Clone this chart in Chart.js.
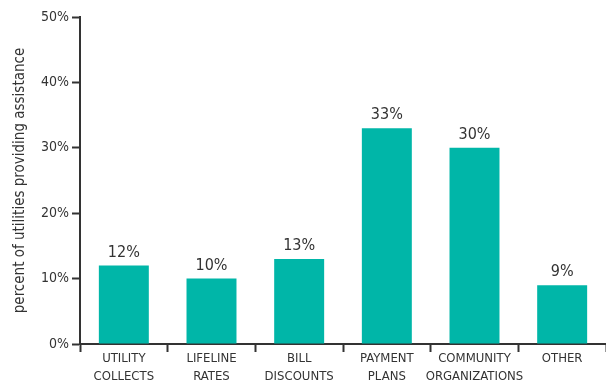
<!DOCTYPE html>
<html>
<head>
<meta charset="utf-8">
<script src="https://cdn.jsdelivr.net/npm/chart.js@4"></script>
<style>
  html, body { margin: 0; padding: 0; background: #fff; }
  #wrap { width: 606px; height: 385px; }
</style>
</head>
<body>
<div id="wrap"><canvas id="assistChart" width="606" height="385"></canvas></div>
<script>
// categorias (dos lineas cada una) y porcentajes
const categories = [
    ['UTILITY', 'COLLECTS'],
    ['LIFELINE', 'RATES'],
    ['BILL', 'DISCOUNTS'],
    ['PAYMENT', 'PLANS'],
    ['COMMUNITY', 'ORGANIZATIONS'],
    ['OTHER']
];
const percentValues = [12, 10, 13, 33, 30, 9];
const yTicks = [0, 10, 20, 30, 40, 50];

const FONT = "'DejaVu Sans Condensed', sans-serif";
const INK = '#333333';

// Etiquetas de valor encima de cada barra
const valueLabels = {
    id: 'valueLabels',
    afterDatasetsDraw(chart) {
        const ctx = chart.ctx;
        const meta = chart.getDatasetMeta(0);
        ctx.save();
        ctx.fillStyle = INK;
        ctx.font = '16px ' + FONT;
        ctx.textAlign = 'center';
        ctx.textBaseline = 'bottom';
        meta.data.forEach((bar, i) => {
            ctx.fillText(percentValues[i] + '%', bar.x, bar.y - 5);
        });
        ctx.restore();
    }
};

const ctx = document.getElementById('assistChart').getContext('2d');
const assistChart = new Chart(ctx, {
    type: 'bar',
    data: {
        labels: categories,
        datasets: [{
            data: percentValues,
            backgroundColor: '#00b6a8',
            barPercentage: 0.57,
            categoryPercentage: 1
        }]
    },
    options: {
        responsive: false,
        animation: false,
        layout: { padding: { top: 17, right: 0, left: 6, bottom: 0 } },
        plugins: {
            legend: { display: false },
            tooltip: { enabled: false }
        },
        scales: {
            x: {
                grid: {
                    offset: true,
                    drawOnChartArea: false,
                    drawTicks: true,
                    tickLength: 8,
                    tickWidth: 2,
                    tickColor: INK
                },
                border: { display: true, color: INK, width: 2 },
                ticks: {
                    color: INK,
                    font: { family: FONT, size: 13, lineHeight: 1.35 },
                    padding: -2,
                    maxRotation: 0,
                    autoSkip: false
                },
                afterFit(scale) { scale.height = 41; }
            },
            y: {
                min: 0,
                max: 50,
                afterBuildTicks(scale) {
                    scale.ticks = yTicks.map(v => ({ value: v }));
                },
                grid: {
                    drawOnChartArea: false,
                    drawTicks: true,
                    tickLength: 8,
                    tickWidth: 2,
                    tickColor: INK
                },
                border: { display: true, color: INK, width: 2 },
                ticks: {
                    color: INK,
                    font: { family: FONT, size: 14 },
                    padding: 3,
                    callback: v => v + '%'
                },
                title: {
                    display: true,
                    text: 'percent of utilities providing assistance',
                    color: INK,
                    font: { family: FONT, size: 15 },
                    padding: { top: 5, bottom: 12 }
                },
                afterFit(scale) { scale.width = 74; }
            }
        }
    },
    plugins: [valueLabels]
});
</script>
</body>
</html>
